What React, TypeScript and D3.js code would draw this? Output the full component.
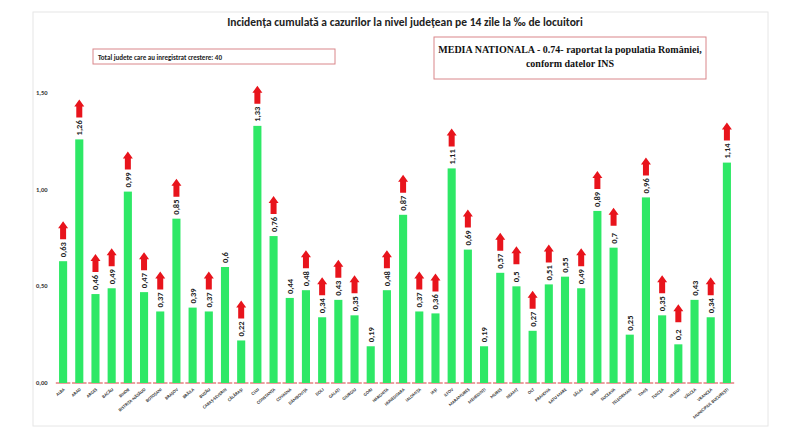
import React from 'react';
import * as d3 from 'd3';

const counties = ['ALBA', 'ARAD', 'ARGEȘ', 'BACĂU', 'BIHOR', 'BISTRIȚA-NĂSĂUD', 'BOTOȘANI', 'BRAȘOV', 'BRĂILA', 'BUZĂU',
  'CARAȘ-SEVERIN', 'CĂLĂRAȘI', 'CLUJ', 'CONSTANȚA', 'COVASNA', 'DÂMBOVIȚA', 'DOLJ', 'GALAȚI', 'GIURGIU', 'GORJ',
  'HARGHITA', 'HUNEDOARA', 'IALOMIȚA', 'IAȘI', 'ILFOV', 'MARAMUREȘ', 'MEHEDINȚI', 'MUREȘ', 'NEAMȚ', 'OLT',
  'PRAHOVA', 'SATU MARE', 'SĂLAJ', 'SIBIU', 'SUCEAVA', 'TELEORMAN', 'TIMIȘ', 'TULCEA', 'VASLUI', 'VÂLCEA',
  'VRANCEA', 'MUNICIPIUL BUCUREȘTI'];
const values = [0.63, 1.26, 0.46, 0.49, 0.99, 0.47, 0.37, 0.85, 0.39, 0.37,
  0.6, 0.22, 1.33, 0.76, 0.44, 0.48, 0.34, 0.43, 0.35, 0.19,
  0.48, 0.87, 0.37, 0.36, 1.11, 0.69, 0.19, 0.57, 0.5, 0.27,
  0.51, 0.55, 0.49, 0.89, 0.7, 0.25, 0.96, 0.35, 0.2, 0.43,
  0.34, 1.14];
// 1 = rising (red arrow drawn above bar)
const rising = [1, 1, 1, 1, 1, 1, 1, 1, 0, 1,
  0, 1, 1, 1, 0, 1, 1, 1, 1, 0,
  1, 1, 1, 1, 1, 1, 0, 1, 1, 1,
  1, 0, 1, 1, 1, 0, 1, 1, 1, 0,
  1, 1];
const yTicks = [0, 0.5, 1, 1.5];

const fmt = (v: number) => String(v).replace('.', ',');

export default function App() {
  const x = d3.scaleBand<string>().domain(counties).range([55, 735]).paddingInner(0.5).paddingOuter(0.25);
  const y = d3.scaleLinear().domain([0, 1.5]).range([383, 93]);
  const bw = x.bandwidth();
  const font = 'Calibri, "Liberation Sans", Arial, sans-serif';

  return (
    <svg width={800} height={436} style={{ position: 'absolute', left: 0, top: 0, fontFamily: font }}>
      <rect x={0} y={0} width={800} height={436} fill="#fff" />
      <rect x={33} y={12} width={735} height={414} fill="none" stroke="#e6e6e6" />
      <text x={405} y={26} textAnchor="middle" fontSize={11.5} fontWeight="bold" fill="#222">
        Incidența cumulată a cazurilor la nivel județean pe 14 zile la ‰ de locuitori
      </text>
      <rect x={93} y={49} width={242} height={15} fill="none" stroke="#d9868a" />
      <text x={98} y={59.5} fontSize={7} fontWeight="bold" fill="#222">Total judete care au inregistrat crestere: 40</text>
      <rect x={434} y={37} width={272} height={42} fill="none" stroke="#d9868a" />
      <text x={570} y={53} textAnchor="middle" fontSize={10} fontWeight="bold" fontFamily='"Liberation Serif", serif' fill="#111">
        MEDIA NATIONALA - 0.74-  raportat la populatia  României,
      </text>
      <text x={570} y={67} textAnchor="middle" fontSize={10} fontWeight="bold" fontFamily='"Liberation Serif", serif' fill="#111">
        conform datelor INS
      </text>
      {yTicks.map(t => (
        <text key={t} x={36} y={y(t) + 2} fontSize={6.5} fontWeight="bold" fill="#333">{t.toFixed(2).replace('.', ',')}</text>
      ))}
      {counties.map((c, i) => {
        const cx = (x(c) || 0) + bw / 2;
        const top = y(values[i]);
        return (
          <g key={c}>
            <line x1={(x(c) || 0) - bw * 0.4} x2={(x(c) || 0) + bw * 1.4} y1={383} y2={383} stroke="#e06060" strokeWidth={1.2} />
            <rect x={x(c)} y={top} width={bw} height={383 - top} fill="#2ee866" />
            <text transform={`translate(${cx + 3},${top - 4}) rotate(-90)`} fontSize={8.5} fontWeight="bold" fill="#222">{fmt(values[i])}</text>
            {rising[i] === 1 && (
              <path
                d={`M${cx - 3},${top - 22} L${cx + 3},${top - 22} L${cx + 3},${top - 33} L${cx + 5},${top - 33} L${cx},${top - 40} L${cx - 5},${top - 33} L${cx - 3},${top - 33} Z`}
                fill="#e8141c"
              />
            )}
            <text transform={`translate(${cx + 2},${390}) rotate(-40)`} textAnchor="end" fontSize={4.5} fontWeight="bold" fill="#333">{c}</text>
          </g>
        );
      })}
    </svg>
  );
}
